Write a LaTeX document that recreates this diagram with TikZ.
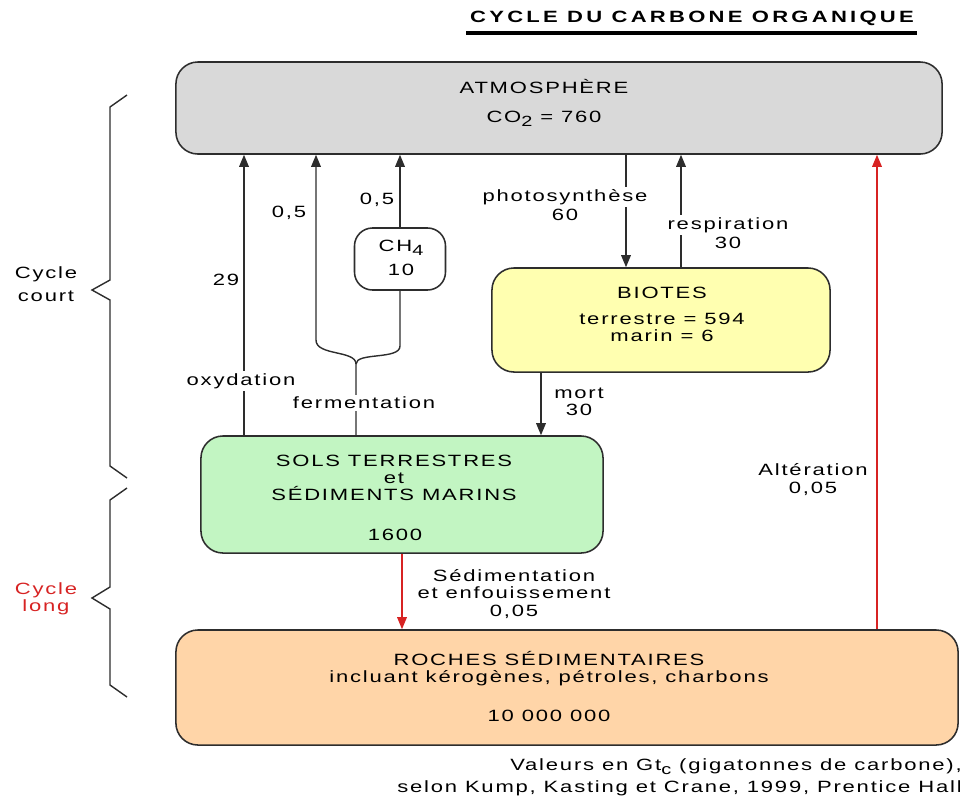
\documentclass[tikz,border=0pt]{standalone}
\usepackage{fontspec}
\setmainfont{Liberation Sans}[FakeStretch=1.35, LetterSpace=11]
\newfontfamily\titrefont{Liberation Sans}[FakeStretch=1.35, LetterSpace=20]
\usetikzlibrary{arrows.meta}
\definecolor{atmgris}{RGB}{217,217,217}
\definecolor{biojaune}{RGB}{255,255,176}
\definecolor{solvert}{RGB}{194,245,194}
\definecolor{rochepeche}{RGB}{255,213,168}
\definecolor{trait}{RGB}{45,45,45}
\definecolor{rouge}{RGB}{215,35,35}
\newcommand{\indice}[1]{\raisebox{-3pt}{\fontsize{10.5}{10.5}\selectfont #1}}

\begin{document}
\begin{tikzpicture}[x=0.025cm, y=0.025cm]
    \tikzstyle{every node}+=[inner sep=0pt, font=\fontsize{11.6}{12.2}\selectfont]
    \tikzstyle{boite}=[draw=trait, line width=1.1pt, rounded corners=0.55cm]
    \tikzstyle{flux}=[draw=trait, line width=1pt, -{Triangle[length=0.3cm,width=0.24cm]}]
    \tikzstyle{lien}=[draw=trait, line width=1pt]
    \tikzstyle{fluxrouge}=[draw=rouge, line width=1pt, -{Triangle[length=0.3cm,width=0.24cm]}]
    \tikzstyle{accolade}=[draw=trait, line width=1pt]
    \tikzstyle{blanc}=[fill=white, inner sep=1.5pt]
    \useasboundingbox (0,0) rectangle (960,-798);
    % titre
    \node [font=\fontsize{11.6}{12}\titrefont\bfseries] (titre) at (692,-18) {CYCLE DU CARBONE ORGANIQUE};
    \draw [line width=2.2pt] (466,-33) -- (917,-33);
    % reservoirs
    \node [boite, fill=atmgris, minimum width=19.15cm, minimum height=2.3cm] (atm) at (559,-108) {};
    \node [boite, fill=biojaune, minimum width=8.45cm, minimum height=2.6cm] (bio) at (661,-320) {};
    \node [boite, fill=solvert, minimum width=10.05cm, minimum height=2.925cm] (sols) at (402,-494.5) {};
    \node [boite, fill=rochepeche, minimum width=19.55cm, minimum height=2.875cm] (roches) at (567,-687.5) {};
    \node [boite, fill=white, rounded corners=0.45cm, minimum width=2.275cm, minimum height=1.55cm] (ch4) at (400,-259) {};
    \node (atmnom) at (544,-86) {ATMOSPHÈRE};
    \node (atmval) at (544,-119) {CO\indice{2} = 760};
    \node (bionom) at (662,-293) {BIOTES};
    \node [align=center] (bioval) at (662,-327.5) {terrestre = 594\\marin = 6};
    \node [align=center] (solsnom) at (394,-478) {SOLS TERRESTRES\\et\\SÉDIMENTS MARINS};
    \node (solsval) at (395,-535) {1600};
    \node [align=center] (rochesnom) at (549,-668.5) {ROCHES SÉDIMENTAIRES\\incluant kérogènes, pétroles, charbons};
    \node (rochesval) at (549,-716) {10 000 000};
    \node (ch4nom) at (401,-248) {CH\indice{4}};
    \node (ch4val) at (401,-270) {10};
    % abscisses des flux
    \coordinate (xoxy) at (244,-300);
    \coordinate (xfg) at (316,-340);
    \coordinate (xfd) at (400,-346);
    \coordinate (ferm) at (356,-364);
    \coordinate (xphoto) at (626,-200);
    \coordinate (xresp) at (681,-200);
    \coordinate (xmort) at (541,-400);
    \coordinate (xsed) at (402,-590);
    \coordinate (xalt) at (877,-400);
    % flux
    \draw [flux] (sols.north -| xoxy) -- (atm.south -| xoxy);
    \draw [flux] (sols.north -| ferm) -- (ferm) .. controls (356,-350) and (316,-356) .. (xfg) -- (atm.south -| xfg);
    \draw [lien] (ferm) .. controls (356,-352) and (400,-360) .. (xfd) -- (ch4.south);
    \draw [flux] (ch4.north) -- (atm.south -| ch4.north);
    \draw [flux] (atm.south -| xphoto) -- (bio.north -| xphoto);
    \draw [flux] (bio.north -| xresp) -- (atm.south -| xresp);
    \draw [flux] (bio.south -| xmort) -- (sols.north -| xmort);
    \draw [fluxrouge] (sols.south -| xsed) -- (roches.north -| xsed);
    \draw [fluxrouge] (roches.north -| xalt) -- (atm.south -| xalt);
    % etiquettes
    \node (l29) at (226,-280) {29};
    \node [blanc] (loxy) at (241,-381) {oxydation};
    \node (lfg) at (289,-213) {0,5};
    \node (lfd) at (377,-200) {0,5};
    \node [blanc] (lferm) at (364,-403) {fermentation};
    \node [blanc] (lphoto) at (565,-197) {photosynthèse};
    \node (lphotoval) at (565,-215) {60};
    \node [blanc] (lresp) at (728,-225) {respiration};
    \node (lrespval) at (728,-243) {30};
    \node [align=center] (lmort) at (579,-401.5) {mort\\30};
    \node [align=center] (lsed) at (514,-594) {Sédimentation\\et enfouissement\\0,05};
    \node [align=center] (lalt) at (813,-479.5) {Altération\\0,05};
    % accolades
    \draw [accolade] (127,-95) -- (110,-107) -- (110,-280) -- (92,-290) -- (110,-300) -- (110,-466) -- (127,-478);
    \draw [accolade] (127,-488) -- (110,-500) -- (110,-587) -- (92,-598) -- (110,-609) -- (110,-685) -- (127,-697);
    \node [align=center] (court) at (46,-284.5) {Cycle\\[4pt]court};
    \node [align=center, text=rouge] (long) at (46,-599) {Cycle\\long};
    % source
    \node [anchor=east] (src1) at (962,-767) {Valeurs en Gt\indice{c} (gigatonnes de carbone),};
    \node [anchor=east] (src2) at (962,-788) {selon Kump, Kasting et Crane, 1999, Prentice Hall};
\end{tikzpicture}
\end{document}
